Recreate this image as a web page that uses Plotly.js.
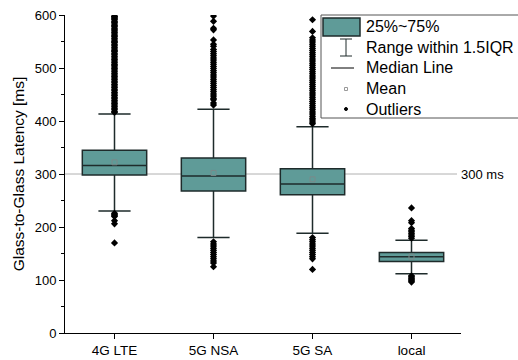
<!DOCTYPE html>
<html>
<head>
<meta charset="utf-8">
<script src="https://cdn.plot.ly/plotly-3.0.1.min.js"></script>
<style>html,body{margin:0;padding:0;background:#fff;}#chart{width:518px;height:360px;}</style>
</head>
<body>
<div id="chart"></div>
<script>
// ---- data ----
const categories = ["4G LTE", "5G NSA", "5G SA", "local"];
const q1Values     = [298, 268, 261, 135];
const medianValues = [316, 296, 281, 144];
const q3Values     = [345, 330, 310, 152];
const lowerFence   = [230, 180, 188, 112];
const upperFence   = [413, 422, 389, 175];
const meanValues   = [322, 302, 290, 144];

const outliersLTE = [598,597,595,593,591,588,586,583,580,578,575,572,570,567,564,561,559,556,553,550,548,545,542,539,536,533,531,528,525,522,519,516,513,510,507,505,502,499,496,493,490,487,484,481,478,475,472,469,466,463,460,457,454,451,448,445,442,439,436,433,430,427,424,421,418,416,226,224,222,220,212,206,170];
const outliersNSA = [598,588,575,572,553,545,541,535,531,527,523,519,515,511,507,503,499,495,491,487,483,479,475,471,467,463,459,455,451,447,443,440,434,430,172,168,164,160,156,152,148,144,140,136,132,125];
const outliersSA  = [591,569,557,553,549,545,541,537,533,529,525,521,517,513,509,505,501,497,493,489,485,481,477,473,469,465,461,457,453,449,445,441,437,433,429,425,421,417,413,409,405,402,398,395,180,176,172,168,164,160,156,152,148,144,140,120];
const outliersLocal = [236,212,208,197,194,191,188,185,182,179,108,106,104,102,100,98,96];

const tick300Label = "300 ms";
const yTitle = "Glass-to-Glass Latency [ms]";
const legendLabels = ["25%~75%", "Range within 1.5IQR", "Median Line", "Mean", "Outliers"];

// ---- build traces ----
const boxColor = "#5f9b98";
const lineColor = "#1e2b2b";

const boxTrace = {
  type: "box",
  x: categories,
  q1: q1Values, median: medianValues, q3: q3Values,
  lowerfence: lowerFence, upperfence: upperFence,
  fillcolor: boxColor,
  line: {color: lineColor, width: 1.5},
  whiskerwidth: 0.5,
  width: 0.65,
  boxpoints: false,
  hoverinfo: "skip",
  showlegend: false
};

const outX = [], outY = [];
[outliersLTE, outliersNSA, outliersSA, outliersLocal].forEach((arr, i) => {
  arr.forEach(v => { outX.push(categories[i]); outY.push(v); });
});
const outlierTrace = {
  type: "scatter", mode: "markers", x: outX, y: outY,
  marker: {symbol: "diamond", size: 5.5, color: "#000"},
  showlegend: false, hoverinfo: "skip"
};
const meanTrace = {
  type: "scatter", mode: "markers", x: categories, y: meanValues,
  marker: {symbol: "square-open", size: 5, color: "#7a8a8a", line: {width: 1}},
  showlegend: false, hoverinfo: "skip"
};

// ---- pixel helpers for the hand-drawn legend ----
const L = 65, T = 15, W = 396, H = 318;
const px = x => (x - L) / W;
const py = y => (T + H - y) / H;

const font = "Arial, 'Liberation Sans', sans-serif";
const shapes = [
  {type: "line", xref: "paper", yref: "y", x0: 0, x1: px(457), y0: 300, y1: 300,
   line: {color: "#b0b0b0", width: 1}, layer: "below"},
  // legend frame
  {type: "rect", xref: "paper", yref: "paper", x0: px(321), x1: px(540), y0: py(15), y1: py(118),
   line: {color: "#555", width: 1}, fillcolor: "rgba(255,255,255,0)"},
  // legend box swatch
  {type: "rect", xref: "paper", yref: "paper", x0: px(323), x1: px(360), y0: py(18), y1: py(36),
   line: {color: lineColor, width: 1.5}, fillcolor: boxColor},
  // I-beam
  {type: "line", xref: "paper", yref: "paper", x0: px(346), x1: px(346), y0: py(39), y1: py(56), line: {color: lineColor, width: 1}},
  {type: "line", xref: "paper", yref: "paper", x0: px(340), x1: px(352), y0: py(39), y1: py(39), line: {color: lineColor, width: 1}},
  {type: "line", xref: "paper", yref: "paper", x0: px(340), x1: px(352), y0: py(56), y1: py(56), line: {color: lineColor, width: 1}},
  // median line
  {type: "line", xref: "paper", yref: "paper", x0: px(331), x1: px(354), y0: py(68), y1: py(68), line: {color: "#000", width: 1}},
  // mean square
  {type: "rect", xref: "paper", yref: "paper", x0: px(344.5), x1: px(347.5), y0: py(87.5), y1: py(90.5), line: {color: "#999", width: 1}},
  // outlier dot
  {type: "circle", xref: "paper", yref: "paper", x0: px(344.5), x1: px(347.5), y0: py(107.5), y1: py(110.5), line: {color: "#000", width: 1}, fillcolor: "#000"}
];

const legendY = [27, 48, 68, 89, 109];
const annotations = legendLabels.map((t, i) => ({
  text: t, xref: "paper", yref: "paper", x: px(364), y: py(legendY[i]),
  xanchor: "left", yanchor: "middle", showarrow: false,
  font: {family: font, size: 16, color: "#000"}
}));
annotations.push({
  text: tick300Label, xref: "paper", yref: "y", x: px(459), y: 300,
  xanchor: "left", yanchor: "middle", showarrow: false,
  font: {family: font, size: 13, color: "#000"}
});

const layout = {
  width: 518, height: 360,
  margin: {l: L, r: 518 - L - W, t: T, b: 360 - T - H, pad: 0},
  paper_bgcolor: "#fff", plot_bgcolor: "#fff",
  showlegend: false,
  font: {family: font, size: 13, color: "#000"},
  xaxis: {
    type: "category", range: [-0.5, 3.5],
    showline: true, linecolor: "#000", linewidth: 1,
    ticks: "outside", ticklen: 5, tickcolor: "#000",
    showgrid: false, zeroline: false,
    tickfont: {family: font, size: 13.5}
  },
  yaxis: {
    range: [0, 600], tickvals: [0, 100, 200, 300, 400, 500, 600],
    showline: true, linecolor: "#000", linewidth: 1,
    ticks: "outside", ticklen: 5, tickcolor: "#000",
    minor: {dtick: 50, ticks: "outside", ticklen: 3, tickcolor: "#000", showgrid: false},
    showgrid: false, zeroline: false,
    tickfont: {family: font, size: 13},
    title: {text: yTitle, font: {family: font, size: 15.5}, standoff: 6}
  },
  shapes: shapes,
  annotations: annotations
};

Plotly.newPlot("chart", [boxTrace, meanTrace, outlierTrace], layout, {staticPlot: true, displayModeBar: false});
</script>
</body>
</html>
